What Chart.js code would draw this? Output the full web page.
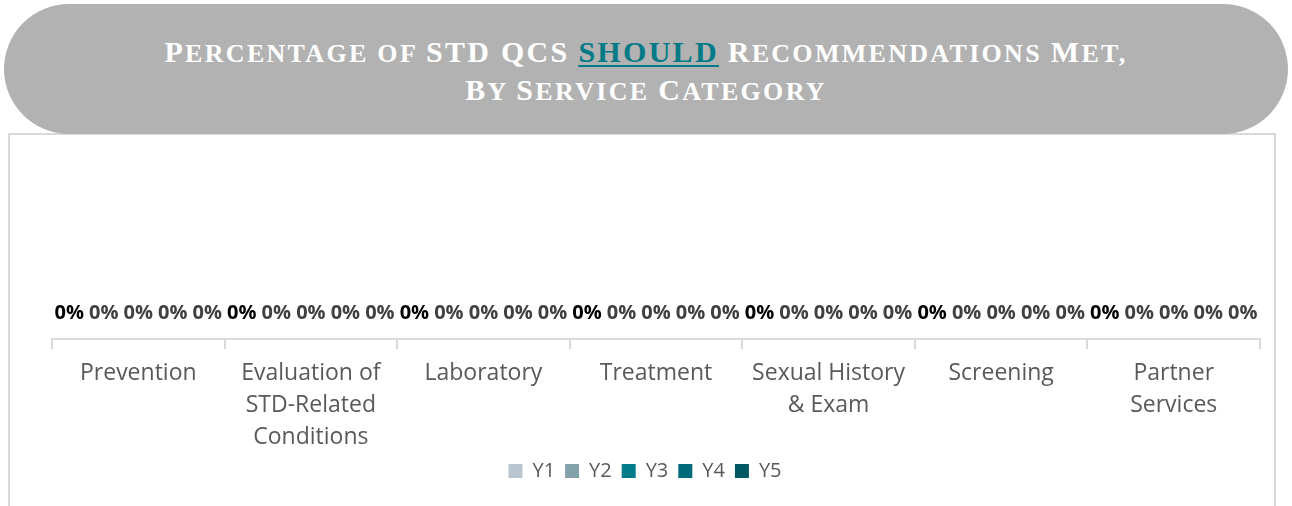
<!DOCTYPE html>
<html>
<head>
<meta charset="utf-8">
<script src="https://cdn.jsdelivr.net/npm/chart.js@4.4.1/dist/chart.umd.min.js"></script>
<style>
  html, body { margin: 0; padding: 0; background: #fff; width: 1292px; height: 506px; overflow: hidden; }
  .pill {
    position: absolute; left: 4px; top: 4px; width: 1284px; height: 130px;
    border-radius: 65px; background: #b2b2b2;
  }
  .ttl {
    position: absolute; left: 0; top: 30px; width: 100%; text-align: center;
    font-family: "Liberation Serif", "DejaVu Serif", serif; font-weight: bold;
    font-size: 26px; line-height: 36px; color: #fff; letter-spacing: 2.3px;
  }
  .ttl i { font-style: normal; font-size: 30px; }
  .ttl u { color: #007a87; text-decoration-thickness: 2px; text-underline-offset: 3px; }
  .box {
    position: absolute; left: 8px; top: 133px; width: 1264px; height: 400px;
    border: 2px solid #d9d9d9; border-bottom: none; background: #fff;
  }
  .wrap { position: absolute; left: 10px; top: 135px; width: 1264px; height: 371px; }
</style>
</head>
<body>
<div class="box"></div>
<div class="pill">
  <div class="ttl"><i>P</i>ERCENTAGE OF <i>STD QCS</i> <u><i>SHOULD</i></u> <i>R</i>ECOMMENDATIONS <i>M</i>ET,<br><i>B</i>Y <i>S</i>ERVICE <i>C</i>ATEGORY</div>
</div>
<div class="wrap"><canvas id="chart"></canvas></div>
<script>
// kategori sumbu x
var categories = [
  "Prevention",
  ["Evaluation of", "STD-Related", "Conditions"],
  "Laboratory",
  "Treatment",
  ["Sexual History", "& Exam"],
  "Screening",
  ["Partner", "Services"]
];

var seriesNames = ["Y1", "Y2", "Y3", "Y4", "Y5"];
var y1 = [0, 0, 0, 0, 0, 0, 0];
var y2 = [0, 0, 0, 0, 0, 0, 0];
var y3 = [0, 0, 0, 0, 0, 0, 0];
var y4 = [0, 0, 0, 0, 0, 0, 0];
var y5 = [0, 0, 0, 0, 0, 0, 0];

var seriesColors = ["#b8c7cf", "#84a2aa", "#007b89", "#006a7a", "#005864"];
var labelColors = ["#000000", "#404040", "#404040", "#404040", "#404040"];

var seriesValues = [y1, y2, y3, y4, y5];
var datasets = [];
for (var i = 0; i < seriesNames.length; i++) {
  datasets.push({
    label: seriesNames[i],
    data: seriesValues[i],
    backgroundColor: seriesColors[i],
    borderWidth: 0,
    inflateAmount: 0,
    barPercentage: 1,
    categoryPercentage: 1
  });
}

// label persen di atas bar (tanpa plugin datalabels)
var barValueLabels = {
  id: "barValueLabels",
  afterDatasetsDraw: function (chart) {
    var ctx = chart.ctx;
    ctx.save();
    ctx.font = "bold 20px 'Open Sans'";
    ctx.textAlign = "center";
    ctx.textBaseline = "bottom";
    chart.data.datasets.forEach(function (ds, di) {
      var meta = chart.getDatasetMeta(di);
      ctx.fillStyle = labelColors[di];
      meta.data.forEach(function (bar, idx) {
        var v = ds.data[idx];
        ctx.fillText(Math.round(v * 100) + "%", bar.x, bar.y - 16);
      });
    });
    ctx.restore();
  }
};

new Chart(document.getElementById("chart"), {
  type: "bar",
  data: { labels: categories, datasets: datasets },
  plugins: [barValueLabels],
  options: {
    responsive: true,
    maintainAspectRatio: false,
    animation: false,
    layout: { padding: { left: 20, right: 14, top: 20, bottom: 15 } },
    scales: {
      x: {
        z: 1,
        afterFit: function (scale) { scale.height = scale.height - 10; },
        grid: { display: true, drawOnChartArea: false, drawTicks: true, tickLength: 10, color: "#d9d9d9", lineWidth: 2 },
        border: { display: true, color: "#d9d9d9", width: 2 },
        ticks: {
          color: "#595959", maxRotation: 0, autoSkip: false, padding: 8,
          font: { family: "'Open Sans'", size: 23, lineHeight: 1.39 }
        }
      },
      // sumbu y disembunyikan, hanya dipakai sebagai ruang kosong di kiri
      y: {
        display: true, min: 0, max: 1,
        afterFit: function (scale) { scale.width = 22; },
        ticks: { display: false },
        grid: { display: false },
        border: { display: false }
      }
    },
    plugins: {
      legend: {
        position: "bottom",
        labels: {
          color: "#595959", boxWidth: 14, boxHeight: 14, padding: 10,
          font: { family: "'Open Sans'", size: 20 }
        }
      },
      tooltip: { enabled: false }
    }
  }
});
</script>
</body>
</html>
